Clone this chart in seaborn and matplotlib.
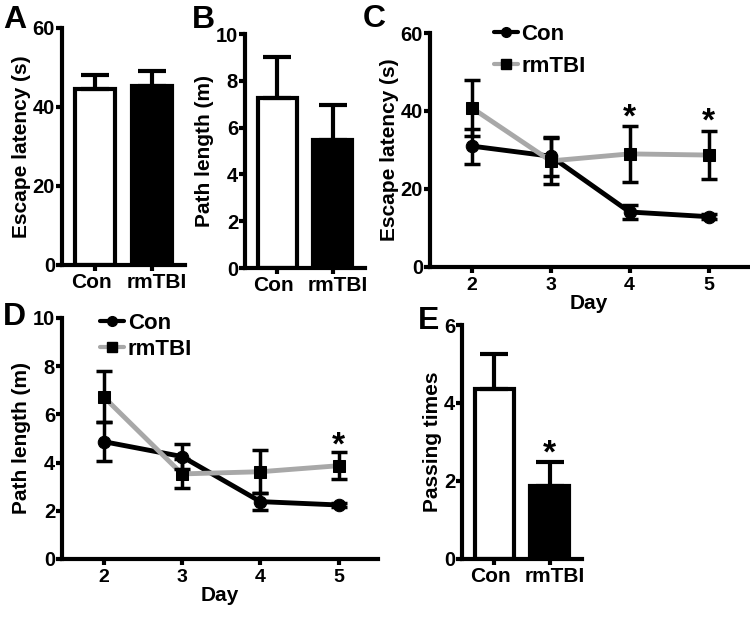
import numpy as np
import pandas as pd
import matplotlib
matplotlib.use('Agg')
import matplotlib.pyplot as plt
import matplotlib.transforms as mtransforms
import seaborn as sns
from matplotlib.lines import Line2D

# ---- data ----
groups = ['Con', 'rmTBI']

# A: escape latency (s), bar means + SEM
latency_mean = [44.6, 45.3]
latency_sem = [3.5, 3.9]

# B: path length (m)
path_mean = [7.26, 5.47]
path_sem = [1.76, 1.50]

# C/D: daily training
days = [2, 3, 4, 5]
con_latency = [31.0, 28.4, 14.1, 12.9]
con_latency_sem = [4.5, 5.0, 1.8, 0.6]
tbi_latency = [40.8, 27.2, 29.0, 28.7]
tbi_latency_sem = [7.2, 6.0, 7.1, 6.2]

con_path = [4.87, 4.25, 2.38, 2.24]
con_path_sem = [0.8, 0.5, 0.35, 0.1]
tbi_path = [6.73, 3.53, 3.62, 3.87]
tbi_path_sem = [1.05, 0.6, 0.9, 0.55]

# E: probe trial
passing_mean = [4.36, 1.88]
passing_sem = [0.9, 0.6]

# significance marks (x, y) per panel
stars_c = [(4, 34.1), (5, 33.2)]
stars_d = [(5, 4.05)]
stars_e = [(1, 2.3)]

sns.set_style('ticks')
plt.rcParams.update({
    'font.family': ['Liberation Sans', 'DejaVu Sans'],
    'font.weight': 'bold',
    'axes.labelweight': 'bold',
    'axes.linewidth': 3,
    'xtick.major.width': 3,
    'ytick.major.width': 3,
    'xtick.major.size': 4,
    'ytick.major.size': 4,
    'xtick.labelsize': 15,
    'ytick.labelsize': 14.5,
    'axes.labelsize': 15,
    'text.color': 'black',
    'axes.labelcolor': 'black',
    'xtick.color': 'black',
    'ytick.color': 'black',
    'axes.edgecolor': 'black',
})

fig = plt.figure(figsize=(7.5, 6.18), dpi=100)

GRAY = '#a8a8a8'


def bar_panel(ax, means, sems, ylim, yticks, ylabel):
    sns.barplot(x=groups, y=means, hue=groups, palette=['white', 'black'],
                edgecolor='black', linewidth=3, width=0.7, saturation=1,
                legend=False, errorbar=None, ax=ax)
    ax.errorbar([0, 1], means, yerr=[[0, 0], sems], fmt='none', ecolor='black',
                elinewidth=3, capsize=10, capthick=3, zorder=5)
    ax.set_xlim(-0.58, 1.58)
    ax.set_ylim(*ylim)
    ax.set_yticks(yticks)
    ax.set_ylabel(ylabel, labelpad=1)
    ax.set_xlabel('')
    ax.tick_params(axis='y', pad=1)
    ax.tick_params(axis='x', pad=2)
    # labels sit slightly apart from their ticks in the original
    for lab, dx in zip(ax.get_xticklabels(), [-4, 5]):
        lab.set_transform(lab.get_transform() +
                          mtransforms.ScaledTranslation(dx / 100, 0, fig.dpi_scale_trans))
    sns.despine(ax=ax)


def line_panel(ax, con, con_sem, tbi, tbi_sem, ylim, yticks, ylabel, spacing):
    sns.lineplot(x=days, y=con, color='black', linewidth=3.5, marker='o',
                 markersize=9, mfc='black', mec='black', ax=ax, zorder=3)
    sns.lineplot(x=days, y=tbi, color=GRAY, linewidth=3.5, marker='s',
                 markersize=9, mfc='black', mec='black', ax=ax, zorder=4)
    ax.errorbar(days, con, yerr=con_sem, fmt='none', ecolor='black',
                elinewidth=2.5, capsize=6, capthick=2.5, zorder=5)
    ax.errorbar(days, tbi, yerr=tbi_sem, fmt='none', ecolor='black',
                elinewidth=2.5, capsize=6, capthick=2.5, zorder=5)
    ax.set_xlim(1.47, 5.5)
    ax.set_xticks(days)
    ax.set_ylim(*ylim)
    ax.set_yticks(yticks)
    ax.set_xlabel('Day', labelpad=0)
    ax.set_ylabel(ylabel, labelpad=1)
    ax.tick_params(axis='y', pad=1)
    ax.tick_params(axis='x', pad=3, labelsize=14)
    handles = [Line2D([], [], color='black', lw=3, marker='o', ms=7, mfc='black', mec='black'),
               Line2D([], [], color=GRAY, lw=3, marker='s', ms=7, mfc='black', mec='black')]
    leg = ax.legend(handles, groups, loc='upper left', frameon=False,
                    handlelength=1.1, handletextpad=0.15, borderpad=0,
                    borderaxespad=0, labelspacing=spacing,
                    prop={'size': 16, 'weight': 'bold'})
    sns.despine(ax=ax)
    return leg


def add_stars(ax, pts):
    for x, y in pts:
        ax.text(x, y, '*', ha='center', va='bottom', fontsize=24,
                fontweight='bold', color='black')


# A
axA = fig.add_axes([0.0827, 0.5712, 0.164, 0.3835])
bar_panel(axA, latency_mean, latency_sem, (0, 60), [0, 20, 40, 60], 'Escape latency (s)')

# B
axB = fig.add_axes([0.3267, 0.5663, 0.16, 0.3786])
bar_panel(axB, path_mean, path_sem, (0, 10), [0, 2, 4, 6, 8, 10], 'Path length (m)')

# C
axC = fig.add_axes([0.5733, 0.568, 0.424, 0.3786])
legC = line_panel(axC, con_latency, con_latency_sem, tbi_latency, tbi_latency_sem,
                  (0, 60), [0, 20, 40, 60], 'Escape latency (s)', 0.5)
legC.set_bbox_to_anchor((0.2, 1.04), transform=axC.transAxes)
add_stars(axC, stars_c)

# D
axD = fig.add_axes([0.0827, 0.0955, 0.4213, 0.39])
legD = line_panel(axD, con_path, con_path_sem, tbi_path, tbi_path_sem,
                  (0, 10), [0, 2, 4, 6, 8, 10], 'Path length (m)', 0.2)
legD.set_bbox_to_anchor((0.12, 1.02), transform=axD.transAxes)
add_stars(axD, stars_d)

# E
axE = fig.add_axes([0.616, 0.0955, 0.16, 0.3786])
bar_panel(axE, passing_mean, passing_sem, (0, 6), [0, 2, 4, 6], 'Passing times')
add_stars(axE, stars_e)

# panel letters
for letter, x, y in [('A', 0.004, 0.9547), ('B', 0.256, 0.9547), ('C', 0.484, 0.956),
                     ('D', 0.004, 0.474), ('E', 0.557, 0.468)]:
    fig.text(x, y, letter, fontsize=23, fontweight='bold', va='baseline', ha='left')

fig.savefig('out.png', dpi=100)
